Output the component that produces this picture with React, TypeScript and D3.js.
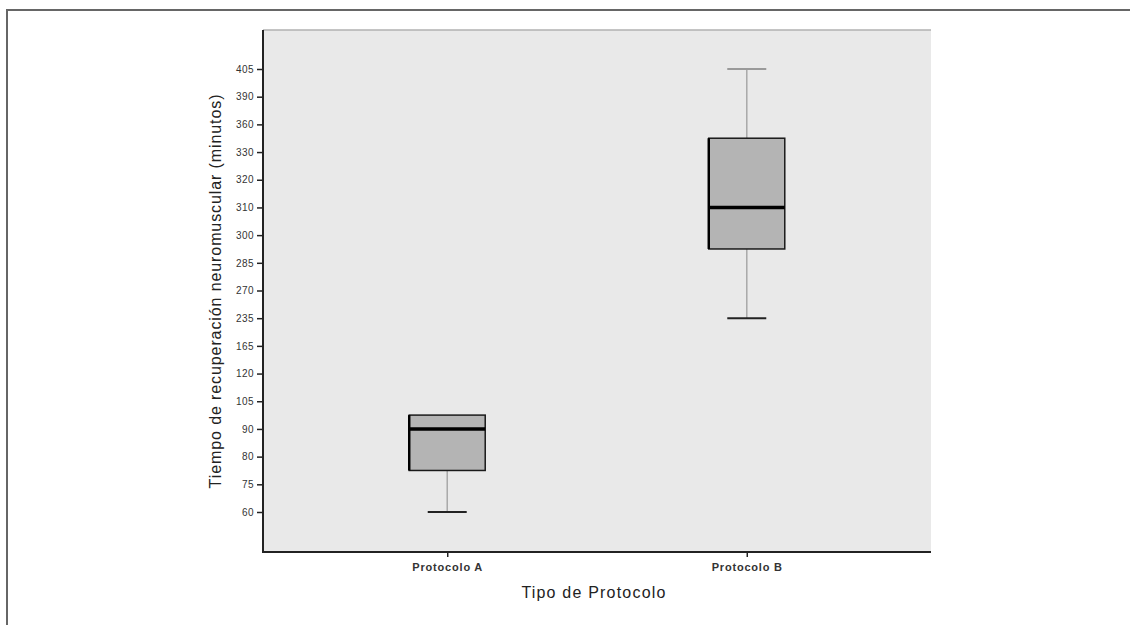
import { useEffect, useRef } from 'react';
import * as d3 from 'd3';

// ordinal tick labels of the y axis, bottom to top
const yTickLabels = ['60', '75', '80', '90', '105', '120', '165', '235', '270', '285', '300', '310', '320', '330', '360', '390', '405'];
const categories = ['Protocolo A', 'Protocolo B'];
// box statistics in positions along the ordinal axis (index into yTickLabels)
const whiskerLow = [0, 7];
const q1 = [1.5, 9.5];
const median = [3, 11];
const q3 = [3.5, 13.5];
const whiskerHigh = [3.5, 16];

export default function App() {
  const svgRef = useRef<SVGSVGElement | null>(null);

  useEffect(() => {
    if (!svgRef.current) return;
    const svg = d3.select(svgRef.current);
    svg.selectAll('*').remove();

    const W = 1130;
    const H = 625;
    const plot = { left: 263, right: 931, top: 30, bottom: 552 };
    const font = '"Liberation Sans", Arial, sans-serif';

    svg.append('rect').attr('width', W).attr('height', H).attr('fill', '#fff');

    // outer frame
    svg.append('path')
      .attr('d', `M7,${H + 5}V10H${W + 5}`)
      .attr('fill', 'none')
      .attr('stroke', '#666')
      .attr('stroke-width', 2);

    svg.append('rect')
      .attr('x', plot.left)
      .attr('y', plot.top)
      .attr('width', plot.right - plot.left)
      .attr('height', plot.bottom - plot.top)
      .attr('fill', '#e9e9e9');
    svg.append('line')
      .attr('x1', plot.left).attr('x2', plot.right)
      .attr('y1', plot.top).attr('y2', plot.top)
      .attr('stroke', '#b0b0b0').attr('stroke-width', 1.5);

    const x = d3.scalePoint<string>()
      .domain(categories)
      .range([plot.left, plot.right])
      .padding(0.615);

    const y = d3.scaleLinear()
      .domain([0, yTickLabels.length - 1])
      .range([512, 69]);

    // y axis
    const yAxis = d3.axisLeft(y)
      .tickValues(d3.range(yTickLabels.length))
      .tickFormat((d) => yTickLabels[d as number])
      .tickSize(6)
      .tickPadding(3);
    const gy = svg.append('g')
      .attr('transform', `translate(${plot.left},0)`)
      .call(yAxis);
    gy.select('.domain').remove();
    gy.selectAll('.tick line').attr('stroke', '#222').attr('stroke-width', 1.5);
    gy.selectAll('.tick text')
      .attr('fill', '#333')
      .style('font-family', font)
      .style('font-size', '10px')
      .style('letter-spacing', '0.4px');

    // x axis
    const xAxis = d3.axisBottom(x).tickSize(5).tickPadding(6);
    const gx = svg.append('g')
      .attr('transform', `translate(0,${plot.bottom})`)
      .call(xAxis);
    gx.select('.domain').remove();
    gx.selectAll('.tick line').attr('stroke', '#222').attr('stroke-width', 1.5);
    gx.selectAll('.tick text')
      .attr('fill', '#333')
      .style('font-family', font)
      .style('font-size', '11px')
      .style('font-weight', 'bold')
      .style('letter-spacing', '0.8px');

    // axis lines
    svg.append('path')
      .attr('d', `M${plot.left},${plot.top}V${plot.bottom}H${plot.right}`)
      .attr('fill', 'none')
      .attr('stroke', '#222')
      .attr('stroke-width', 2);

    // boxes
    const boxW = 76;
    const capW = 39;
    categories.forEach((c, i) => {
      const cx = x(c)!;
      const g = svg.append('g');
      // whiskers
      g.append('line')
        .attr('x1', cx).attr('x2', cx)
        .attr('y1', y(whiskerLow[i])).attr('y2', y(q1[i]))
        .attr('stroke', '#a8a8a8').attr('stroke-width', 1.5);
      g.append('line')
        .attr('x1', cx).attr('x2', cx)
        .attr('y1', y(q3[i])).attr('y2', y(whiskerHigh[i]))
        .attr('stroke', '#a8a8a8').attr('stroke-width', 1.5);
      g.append('line')
        .attr('x1', cx - capW / 2).attr('x2', cx + capW / 2)
        .attr('y1', y(whiskerLow[i])).attr('y2', y(whiskerLow[i]))
        .attr('stroke', '#222').attr('stroke-width', 2);
      if (whiskerHigh[i] > q3[i]) {
        g.append('line')
          .attr('x1', cx - capW / 2).attr('x2', cx + capW / 2)
          .attr('y1', y(whiskerHigh[i])).attr('y2', y(whiskerHigh[i]))
          .attr('stroke', '#9a9a9a').attr('stroke-width', 2);
      }
      g.append('rect')
        .attr('x', cx - boxW / 2)
        .attr('y', y(q3[i]))
        .attr('width', boxW)
        .attr('height', y(q1[i]) - y(q3[i]))
        .attr('fill', '#b4b4b4')
        .attr('stroke', '#1a1a1a')
        .attr('stroke-width', 1.5);
      g.append('line')
        .attr('x1', cx - boxW / 2).attr('x2', cx - boxW / 2)
        .attr('y1', y(q3[i])).attr('y2', y(q1[i]))
        .attr('stroke', '#000').attr('stroke-width', 2.5);
      g.append('line')
        .attr('x1', cx - boxW / 2).attr('x2', cx + boxW / 2)
        .attr('y1', y(median[i])).attr('y2', y(median[i]))
        .attr('stroke', '#000').attr('stroke-width', 3.5);
    });

    // titles
    svg.append('text')
      .attr('transform', `translate(221,${(plot.top + plot.bottom) / 2}) rotate(-90)`)
      .attr('text-anchor', 'middle')
      .style('font-family', font)
      .style('font-size', '16px')
      .style('letter-spacing', '0.9px')
      .attr('fill', '#222')
      .text('Tiempo de recuperación neuromuscular (minutos)');

    svg.append('text')
      .attr('x', 594)
      .attr('y', 598)
      .attr('text-anchor', 'middle')
      .style('font-family', font)
      .style('font-size', '16px')
      .style('letter-spacing', '1.2px')
      .attr('fill', '#222')
      .text('Tipo de Protocolo');
  }, []);

  return (
    <svg
      ref={svgRef}
      width={1130}
      height={625}
      style={{ position: 'absolute', left: 0, top: 0 }}
    />
  );
}
